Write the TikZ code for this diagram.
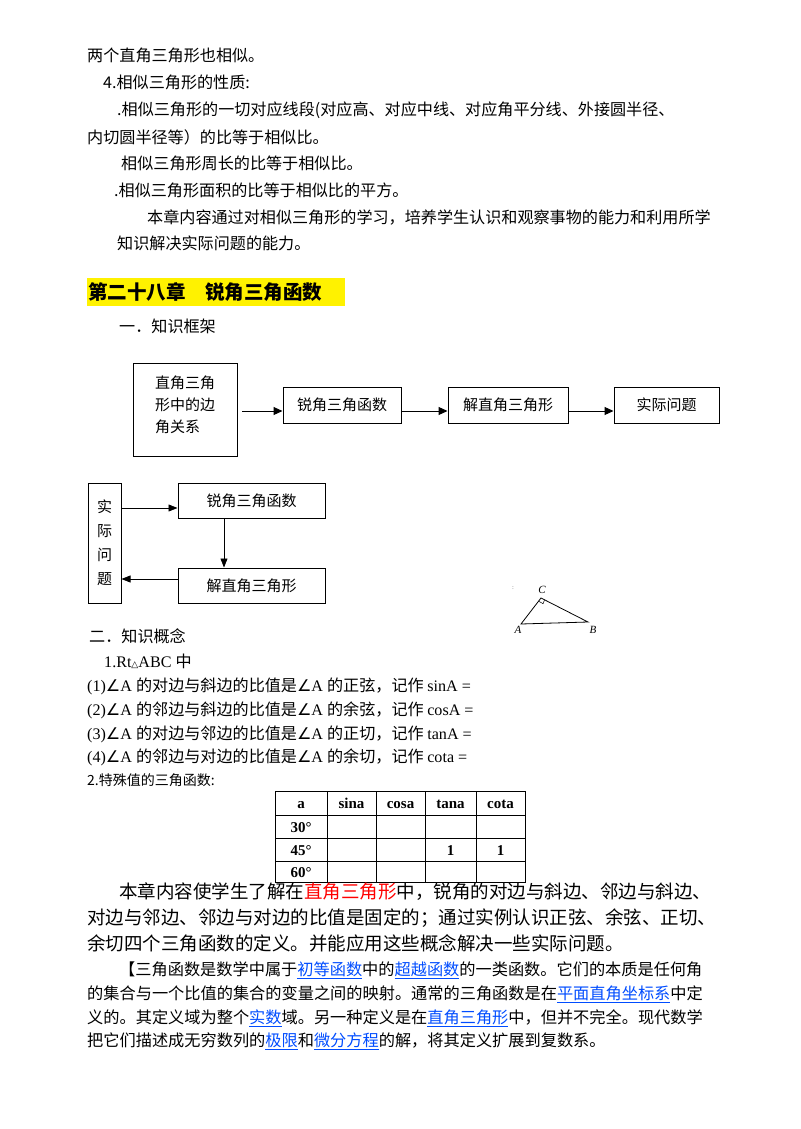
\documentclass[tikz,border=0pt]{standalone}
\usepackage{fontspec}
\setmainfont{Noto Sans CJK SC}
\newfontfamily\lat{Liberation Serif}
\newfontfamily\dv{DejaVu Sans}
\newcommand{\ang}{{\dv ∠}}
\usetikzlibrary{arrows.meta,calc}
\begin{document}
\begin{tikzpicture}[x=1pt,y=-1pt,
  t/.style={anchor=base west,inner sep=0pt,font=\fontsize{16.1}{18}\selectfont},
  tb/.style={anchor=base west,inner sep=0pt,font=\fontsize{18.5}{22}\selectfont},
  tc/.style={anchor=base west,inner sep=0pt,font=\fontsize{16.2}{20}\selectfont},
  bx/.style={draw,line width=1pt,inner sep=0pt},
  bl/.style={font=\fontsize{15}{18}\selectfont},
  ar/.style={-{Triangle[length=9pt,width=8pt]},line width=1pt},
  ar2/.style={-{Triangle[length=9pt,width=7pt]},line width=0.6pt},
  th/.style={font=\lat\bfseries\fontsize{15}{18}\selectfont}]
\useasboundingbox (0,0) rectangle (800,1129);
\node[t] (l1) at (87,62) {两个直角三角形也相似。};
\node[t] (l2) at (103,89) {4.相似三角形的性质:};
\node[t] (l3) at (117,116) {.相似三角形的一切对应线段(对应高、对应中线、对应角平分线、外接圆半径、};
\node[t] (l4) at (87,143) {内切圆半径等）的比等于相似比。};
\node[t] (l5) at (121,169) {相似三角形周长的比等于相似比。};
\node[t] (l6) at (114,196) {.相似三角形面积的比等于相似比的平方。};
\node[t] (l7) at (147,223) {本章内容通过对相似三角形的学习，培养学生认识和观察事物的能力和利用所学};
\node[t] (l8) at (117,249) {知识解决实际问题的能力。};
\fill[yellow] (87,278) rectangle (345,306);
\node[anchor=base west,inner sep=0pt,font=\bfseries\fontsize{19.5}{22}\selectfont] (h) at (88,299) {第二十八章\hspace{1em}锐角三角函数};
\node[t] (l9) at (119,332) {一．知识框架};
% diagram 1
\draw[line width=1pt] (133,363) rectangle (237,456);
\node[bl,align=left,font=\fontsize{15}{22}\selectfont] (d1) at (185,405) {直角三角\\形中的边\\角关系};
\node[bx,bl,minimum width=118pt,minimum height=36pt] (d2) at (342,405) {锐角三角函数};
\node[bx,bl,minimum width=120pt,minimum height=36pt] (d3) at (508,405) {解直角三角形};
\node[bx,bl,minimum width=105pt,minimum height=36pt] (d4) at (666.5,405) {实际问题};
\coordinate (d1e) at (242,411);
\draw[ar] (d1e) -- (d2.west|-d1e);
\draw[ar] (d2.east|-d1e) -- (d3.west|-d1e);
\draw[ar] (d3.east|-d1e) -- (d4.west|-d1e);
% diagram 2
\node[bx,bl,minimum width=33pt,minimum height=120pt,align=center,font=\fontsize{15}{24}\selectfont] (e1) at (104.5,543) {实\\际\\问\\题};
\node[bx,bl,minimum width=147pt,minimum height=35pt] (e2) at (251.5,500.5) {锐角三角函数};
\node[bx,bl,minimum width=147pt,minimum height=35pt] (e3) at (251.5,585.5) {解直角三角形};
\draw[ar2] (e1.east|-0,508) -- (e2.west|-0,508);
\draw[ar2] (e2.south-|224,0) -- (e3.north-|224,0);
\draw[ar2] (e3.west|-0,579) -- (e1.east|-0,579);
% triangle
\coordinate (A) at (521,624);
\coordinate (B) at (588,622);
\coordinate (C) at (541,598);
\draw[line width=0.8pt] (A) -- (C) -- (B) -- cycle;
\draw[line width=0.5pt] ($(C)!4pt!(A)$) -- ++(4.5,2.5) -- ($(C)!4pt!(B)$);
\node[font=\lat\itshape\fontsize{11}{12}\selectfont] (lc) at (542,590) {C};
\node[font=\lat\itshape\fontsize{11}{12}\selectfont] (la) at (518,630) {A};
\node[font=\lat\itshape\fontsize{11}{12}\selectfont] (lb) at (593,630) {B};
\node[font=\fontsize{5}{5}\selectfont] (dt) at (513,588) {:};
% concepts
\node[t] (m0) at (89,642) {二．知识概念};
\node[t] (m1) at (104,667) {\lat 1.Rt{\dv\fontsize{9}{10}\selectfont △}ABC \rmfamily 中};
\node[t] (m2) at (87,691) {\lat(1)\ang A \rmfamily 的对边与斜边的比值是\ang\lat A \rmfamily 的正弦，记作 \lat sinA =};
\node[t] (m3) at (87,715) {\lat(2)\ang A \rmfamily 的邻边与斜边的比值是\ang\lat A \rmfamily 的余弦，记作 \lat cosA =};
\node[t] (m4) at (87,739) {\lat(3)\ang A \rmfamily 的对边与邻边的比值是\ang\lat A \rmfamily 的正切，记作 \lat tanA =};
\node[t] (m5) at (87,762) {\lat(4)\ang A \rmfamily 的邻边与对边的比值是\ang\lat A \rmfamily 的余切，记作 \lat cota =};
\node[t,font=\fontsize{14}{16}\selectfont] (m6) at (87,785) {2.特殊值的三角函数:};
% table
\draw[line width=0.7pt] (275,791) rectangle (525,882);
\foreach \x in {327,376,425,476} \draw[line width=0.7pt] (\x,791) -- (\x,882);
\foreach \y in {815,838,861} \draw[line width=0.7pt] (275,\y) -- (525,\y);
\node[th,anchor=base] (ha) at (301,808) {a};
\node[th,anchor=base] (hs) at (351.5,808) {sina};
\node[th,anchor=base] (hc) at (400.5,808) {cosa};
\node[th,anchor=base] (ht) at (450.5,808) {tana};
\node[th,anchor=base] (hk) at (500.5,808) {cota};
\node[th,anchor=base] (r1) at (301,832) {30°};
\node[th,anchor=base] (r2) at (301,855) {45°};
\node[th,anchor=base] (r3) at (301,877) {60°};
\node[th,anchor=base] (v1) at (450.5,855) {1};
\node[th,anchor=base] (v2) at (500.5,855) {1};
% paragraph
\node[tb] (p1) at (119,898) {本章内容使学生了解在\textcolor{red}{直角三角形}中，锐角的对边与斜边、邻边与斜边、};
\node[tb] (p2) at (87,924) {对边与邻边、邻边与对边的比值是固定的；通过实例认识正弦、余弦、正切、};
\node[tb] (p3) at (87,950) {余切四个三角函数的定义。并能应用这些概念解决一些实际问题。};
\node[tc] (q1) at (119,975) {【三角函数是数学中属于\textcolor{blue!70!cyan}{\underline{初等函数}}中的\textcolor{blue!70!cyan}{\underline{超越函数}}的一类函数。它们的本质是任何角};
\node[tc] (q2) at (87,999) {的集合与一个比值的集合的变量之间的映射。通常的三角函数是在\textcolor{blue!70!cyan}{\underline{平面直角坐标系}}中定};
\node[tc] (q3) at (87,1023) {义的。其定义域为整个\textcolor{blue!70!cyan}{\underline{实数}}域。另一种定义是在\textcolor{blue!70!cyan}{\underline{直角三角形}}中，但并不完全。现代数学};
\node[tc] (q4) at (87,1046) {把它们描述成无穷数列的\textcolor{blue!70!cyan}{\underline{极限}}和\textcolor{blue!70!cyan}{\underline{微分方程}}的解，将其定义扩展到复数系。};
\end{tikzpicture}
\end{document}
